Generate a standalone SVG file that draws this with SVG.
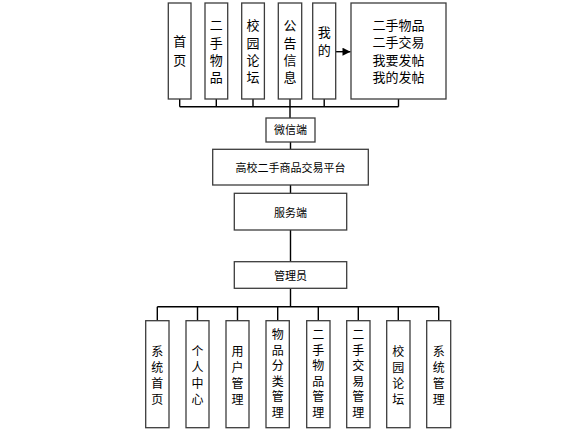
<svg xmlns="http://www.w3.org/2000/svg" width="587" height="436" viewBox="0 0 587 436">
<defs>
<style>
.box{fill:#fff;stroke:#3c3c3c;stroke-width:1.3}
.ln{fill:none;stroke:#000;stroke-width:1.4}
.t{font-family:"Noto Sans CJK SC","Noto Sans",sans-serif;font-size:13px;fill:#000;text-anchor:middle}
.b{font-family:"Noto Sans CJK SC","Noto Sans",sans-serif;font-size:12px;fill:#000;text-anchor:middle}
.m{font-family:"Noto Sans CJK SC","Noto Sans",sans-serif;font-size:11px;fill:#000;text-anchor:middle}
</style>
<marker id="arr" viewBox="0 0 10 10" refX="10" refY="5" markerWidth="12" markerHeight="8" markerUnits="userSpaceOnUse" orient="auto">
<path d="M0,0 L10,5 L0,10 z" fill="#000"/>
</marker>
</defs>
<rect width="587" height="436" fill="#fff"/>

<g id="connectors">
<path class="ln" d="M179.7,99 V106.7 M216.3,99 V106.7 M253,99 V106.7 M290,99 V118 M324.2,99 V106.7 M398.5,99 V106.7 M179.7,106.7 H398.5"/>
<path class="ln" d="M290.5,142 V149.3 M290.5,185 V193.3 M290.5,230 V261.7 M290.5,288.3 V306.7"/>
<path class="ln" d="M157.3,306.7 H438.7 M157.3,306.7 V320.7 M197.5,306.7 V320.7 M237.5,306.7 V320.7 M277.7,306.7 V320.7 M318.3,306.7 V320.7 M358.3,306.7 V320.7 M398.3,306.7 V320.7 M438.7,306.7 V320.7"/>
<path class="ln" d="M335.7,51.7 H350.5" marker-end="url(#arr)"/>
</g>

<g id="n-home">
<rect class="box" x="168.3" y="3" width="22.7" height="96"/>
<text class="t"><tspan x="179.7" y="46">首</tspan><tspan x="179.7" y="65.2">页</tspan></text>
</g>
<g id="n-goods">
<rect class="box" x="205" y="3" width="22.7" height="96"/>
<text class="t"><tspan x="216.3" y="30.4">二</tspan><tspan x="216.3" y="47.9">手</tspan><tspan x="216.3" y="65.2">物</tspan><tspan x="216.3" y="82.4">品</tspan></text>
</g>
<g id="n-forum">
<rect class="box" x="241.7" y="3" width="22.7" height="96"/>
<text class="t"><tspan x="253" y="30.4">校</tspan><tspan x="253" y="47.9">园</tspan><tspan x="253" y="65.2">论</tspan><tspan x="253" y="82.4">坛</tspan></text>
</g>
<g id="n-notice">
<rect class="box" x="278.3" y="3" width="23.4" height="96"/>
<text class="t"><tspan x="290" y="30.4">公</tspan><tspan x="290" y="47.9">告</tspan><tspan x="290" y="65.2">信</tspan><tspan x="290" y="82.4">息</tspan></text>
</g>
<g id="n-mine">
<rect class="box" x="312.7" y="3" width="23" height="96"/>
<text class="t"><tspan x="324.2" y="37.4">我</tspan><tspan x="324.2" y="54.9">的</tspan></text>
</g>
<g id="n-mine-items">
<rect class="box" x="351" y="3" width="95" height="96"/>
<text class="t"><tspan x="398.5" y="29.6">二手物品</tspan><tspan x="398.5" y="47.1">二手交易</tspan><tspan x="398.5" y="64.6">我要发帖</tspan><tspan x="398.5" y="82.1">我的发帖</tspan></text>
</g>

<g id="n-wechat">
<rect class="box" x="266" y="118" width="49" height="24"/>
<text class="m" x="290.5" y="134.2">微信端</text>
</g>
<g id="n-platform">
<rect class="box" x="212.7" y="149.3" width="155.6" height="35.7"/>
<text class="m" x="290.5" y="172.3">高校二手商品交易平台</text>
</g>
<g id="n-server">
<rect class="box" x="234.3" y="193.3" width="112.4" height="36.7"/>
<text class="m" x="290.5" y="216.5">服务端</text>
</g>
<g id="n-admin">
<rect class="box" x="234.3" y="261.7" width="112.4" height="26.6"/>
<text class="m" x="290.5" y="280">管理员</text>
</g>

<g id="n-b1">
<rect class="box" x="145.7" y="320.7" width="23.3" height="107"/>
<text class="b"><tspan x="157.3" y="356.1">系</tspan><tspan x="157.3" y="372.1">统</tspan><tspan x="157.3" y="388.1">首</tspan><tspan x="157.3" y="404.1">页</tspan></text>
</g>
<g id="n-b2">
<rect class="box" x="186" y="320.7" width="23" height="107"/>
<text class="b"><tspan x="197.5" y="356.1">个</tspan><tspan x="197.5" y="372.1">人</tspan><tspan x="197.5" y="388.1">中</tspan><tspan x="197.5" y="404.1">心</tspan></text>
</g>
<g id="n-b3">
<rect class="box" x="226" y="320.7" width="23" height="107"/>
<text class="b"><tspan x="237.5" y="356.1">用</tspan><tspan x="237.5" y="372.1">户</tspan><tspan x="237.5" y="388.1">管</tspan><tspan x="237.5" y="404.1">理</tspan></text>
</g>
<g id="n-b4">
<rect class="box" x="266" y="320.7" width="23.3" height="107"/>
<text class="b"><tspan x="277.7" y="339.3">物</tspan><tspan x="277.7" y="354.8">品</tspan><tspan x="277.7" y="370.3">分</tspan><tspan x="277.7" y="385.8">类</tspan><tspan x="277.7" y="401.3">管</tspan><tspan x="277.7" y="416.8">理</tspan></text>
</g>
<g id="n-b5">
<rect class="box" x="306.7" y="320.7" width="23.3" height="107"/>
<text class="b"><tspan x="318.3" y="339.3">二</tspan><tspan x="318.3" y="354.8">手</tspan><tspan x="318.3" y="370.3">物</tspan><tspan x="318.3" y="385.8">品</tspan><tspan x="318.3" y="401.3">管</tspan><tspan x="318.3" y="416.8">理</tspan></text>
</g>
<g id="n-b6">
<rect class="box" x="346.7" y="320.7" width="23.3" height="107"/>
<text class="b"><tspan x="358.3" y="339.3">二</tspan><tspan x="358.3" y="354.8">手</tspan><tspan x="358.3" y="370.3">交</tspan><tspan x="358.3" y="385.8">易</tspan><tspan x="358.3" y="401.3">管</tspan><tspan x="358.3" y="416.8">理</tspan></text>
</g>
<g id="n-b7">
<rect class="box" x="386.7" y="320.7" width="23.3" height="107"/>
<text class="b"><tspan x="398.3" y="356.1">校</tspan><tspan x="398.3" y="372.1">园</tspan><tspan x="398.3" y="388.1">论</tspan><tspan x="398.3" y="404.1">坛</tspan></text>
</g>
<g id="n-b8">
<rect class="box" x="426.7" y="320.7" width="24" height="107"/>
<text class="b"><tspan x="438.7" y="356.1">系</tspan><tspan x="438.7" y="372.1">统</tspan><tspan x="438.7" y="388.1">管</tspan><tspan x="438.7" y="404.1">理</tspan></text>
</g>
</svg>
